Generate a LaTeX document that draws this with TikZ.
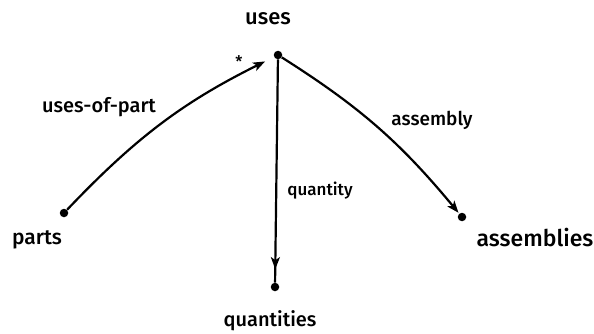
\documentclass[tikz,border=0pt]{standalone}
\usepackage{fontspec}
\setmainfont{Fira Sans Medium}
\usetikzlibrary{arrows.meta,decorations.markings}
\begin{document}
\begin{tikzpicture}[x=1pt,y=-1pt,
  dotnode/.style={circle,fill=black,inner sep=0pt,minimum size=8.5pt},
  lbl/.style={inner sep=0pt,font=\fontsize{#1}{#1}\selectfont},
  lbl/.default=20,
  tip/.style={Stealth[length=12pt,width=9pt,inset=3pt]},
  conn/.style={line width=2.2pt,-{Stealth[length=12pt,width=9pt,inset=3pt]}},
  midarrow/.style={line width=2.2pt,decoration={markings,mark=at position #1 with {\arrow{Stealth[length=12pt,width=9pt,inset=3pt]}}},postaction={decorate}}]
\useasboundingbox (0,0) rectangle (594,334);
\node[dotnode] (uses) at (278,55) {};
\node[dotnode] (parts) at (64,213) {};
\node[dotnode] (quant) at (275,287) {};
\node[dotnode] (asm) at (462,217) {};
\node[lbl=22] (tuses) at (268,19) {uses};
\node[lbl=21] (tparts) at (37,240) {parts};
\node[lbl=20] (tquant) at (270,321) {quantities};
\node[lbl=23] (tasm) at (535,238) {assemblies};
\node[lbl=16] (star) at (239,62) {*};
\draw[conn,shorten >=10pt] (parts) to[bend left=10] (uses);
\draw[conn,shorten >=1pt] (uses) to[bend left=9] (asm);
\draw[midarrow=0.94] (uses) -- (quant);
\node[lbl=20] (l1) at (99,107) {uses-of-part};
\node[lbl=19] (l2) at (432,120) {assembly};
\node[lbl=17] (l3) at (320,191) {quantity};
\end{tikzpicture}
\end{document}
